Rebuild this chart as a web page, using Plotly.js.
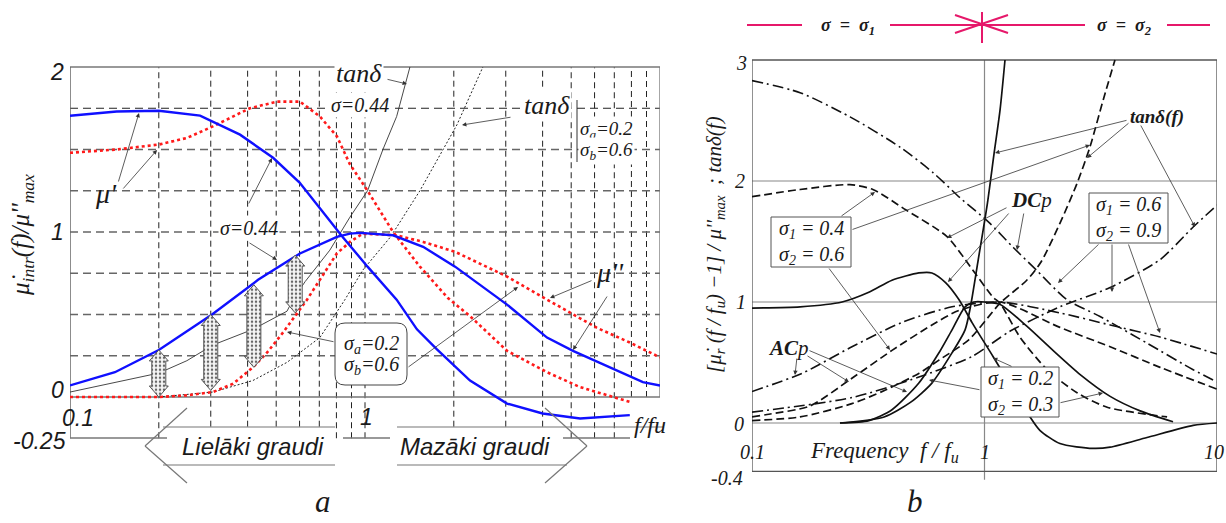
<!DOCTYPE html>
<html><head><meta charset="utf-8">
<script src="https://cdn.plot.ly/plotly-3.0.1.min.js"></script>
<style>html,body{margin:0;padding:0;background:#fff}#chart{width:1226px;height:523px}</style>
</head><body><div id="chart"></div>
<script>
// ---------- Panel a data (f/fu, normalised value) ----------
const blueMu1X = [0.1,0.144,0.2,0.276,0.377,0.488,0.6,0.76,0.84,1.02,1.28,1.5,1.75,2.27,3.03,4.0,5.36,7.9];
const blueMu1Y = [1.705,1.73,1.735,1.705,1.59,1.45,1.30,1.07,0.97,0.79,0.59,0.41,0.29,0.10,-0.04,-0.10,-0.13,-0.11];
const blueMu2X = [0.1,0.142,0.2,0.303,0.434,0.503,0.602,0.803,0.889,0.962,1.245,1.574,2.02,3.03,4.14,5.07,6.6,8.75,10];
const blueMu2Y = [0.07,0.15,0.285,0.50,0.71,0.78,0.87,0.97,0.99,0.995,0.98,0.91,0.79,0.56,0.36,0.28,0.19,0.09,0.07];
const redMu1X = [0.1,0.144,0.2,0.249,0.305,0.407,0.503,0.602,0.703,0.803,0.889,1.02,1.245,1.535,1.91,2.27,3.03,4.14,5.36,7.9];
const redMu1Y = [1.48,1.50,1.53,1.57,1.64,1.75,1.79,1.79,1.70,1.58,1.41,1.25,1.0,0.79,0.60,0.49,0.28,0.15,0.06,-0.03];
const redMu2X = [0.1,0.2,0.249,0.305,0.357,0.417,0.466,0.527,0.636,0.703,0.803,0.889,0.984,1.28,1.574,2.02,3.03,4.24,6.1,7.9,10];
const redMu2Y = [0,0,0.01,0.03,0.08,0.18,0.27,0.39,0.59,0.71,0.87,0.94,0.99,0.98,0.94,0.88,0.73,0.58,0.42,0.33,0.24];
const tanThinX = [0.1,0.144,0.2,0.249,0.305,0.417,0.544,0.57,0.627,0.76,0.889,1.02,1.15,1.28,1.42];
const tanThinY = [0.03,0.09,0.145,0.22,0.315,0.41,0.52,0.59,0.70,0.89,1.09,1.25,1.5,1.70,2.0];
const tanDotX = [0.2,0.305,0.417,0.544,0.703,0.855,0.984,1.22,1.535,2.05,2.51];
const tanDotY = [0,0.03,0.10,0.21,0.36,0.59,0.77,0.97,1.25,1.65,2.0];
const stipX = [0.2,0.3,0.42,0.58];
const stipTop = [0.285,0.50,0.68,0.86];
const stipBot = [0.0,0.04,0.18,0.51];
const gridAX = [0.2,0.3,0.4,0.5,0.6,0.7,0.8,0.9,1,2,3,4,5,6,7,8,9];
const gridAY = [0.25,0.5,0.75,1,1.25,1.5,1.75];

// ---------- Panel b data ----------
const dcSolidX = [0.1,0.161,0.244,0.318,0.40,0.522,0.594,0.68,0.776,0.884,1.088,1.57,1.73,2.11,2.93,3.47,5.0,7.9,10];
const dcSolidY = [0.95,0.96,1.0,1.08,1.18,1.24,1.24,1.16,1.02,0.83,0.55,0.05,-0.06,-0.17,-0.21,-0.20,-0.12,-0.02,0];
const acSolidX = [0.239,0.318,0.40,0.522,0.637,0.725,0.825,0.9,1.0,1.167,1.52,1.97,2.58,3.47,4.67,6.47];
const acSolidY = [0,0.02,0.11,0.33,0.58,0.77,0.96,1.0,1.0,0.98,0.80,0.60,0.40,0.22,0.10,0.01];
const tanSolidX = [0.239,0.37,0.48,0.594,0.725,0.825,0.87,0.94,1.03,1.10,1.167,1.225];
const tanSolidY = [0,0.05,0.17,0.33,0.58,0.77,0.96,1.35,1.82,2.23,2.59,3.0];
const dcDashX = [0.1,0.161,0.264,0.331,0.46,0.69,0.893,1.088,1.167,1.42,1.86,2.50,3.37,6.1];
const dcDashY = [1.87,1.93,1.97,1.93,1.76,1.54,1.26,1.04,0.99,0.71,0.44,0.25,0.13,0.05];
const acDashX = [0.1,0.116,0.177,0.269,0.40,0.594,0.776,1.167,2.11,3.47,5.69,10];
const acDashY = [0.05,0.07,0.14,0.37,0.60,0.81,0.93,1.0,0.79,0.63,0.46,0.28];
const tanDashX = [0.1,0.161,0.269,0.373,0.522,0.637,0.858,1.167,1.52,1.75,2.11,2.50,2.84,3.24,3.64];
const tanDashY = [0.02,0.05,0.16,0.27,0.41,0.52,0.69,0.99,1.18,1.33,1.65,1.98,2.28,2.67,3.0];
const dcDotX = [0.1,0.161,0.264,0.433,0.6,0.786,1.056,1.33,1.68,2.26,3.14,5.0,7.9,10];
const dcDotY = [2.83,2.73,2.53,2.28,2.07,1.86,1.65,1.45,1.26,1.02,0.88,0.66,0.44,0.34];
const acDotX = [0.1,0.164,0.269,0.44,0.725,1.167,2.11,3.47,5.69,10];
const acDotY = [0.26,0.41,0.63,0.83,0.96,1.0,0.91,0.81,0.71,0.57];
const tanDotBX = [0.1,0.269,0.522,0.884,1.29,2.11,3.47,5.69,7.9,10];
const tanDotBY = [0.09,0.21,0.38,0.55,0.76,0.96,1.12,1.35,1.62,1.80];
const gridBY = [0,1,2];

// ---------- helpers ----------
const W = 1226, H = 523;
const PX = x => x / W, PY = y => 1 - y / H;
const SERIF = 'Liberation Serif, Times New Roman, serif';
const SANS = 'Liberation Sans, Arial, sans-serif';
const PINK = '#e6186a';
function seg(x0,y0,x1,y1,color,width,dash){return {type:'line',xref:'paper',yref:'paper',x0:PX(x0),y0:PY(y0),x1:PX(x1),y1:PY(y1),line:{color:color,width:width,dash:dash||'solid'},layer:'above'};}
function txt(x,y,text,size,family,extra){return Object.assign({xref:'paper',yref:'paper',x:PX(x),y:PY(y),text:text,showarrow:false,xanchor:'center',yanchor:'middle',font:{family:family||SERIF,size:size,color:'#1a1a1a'}},extra||{});}
function arr(hx,hy,tx,ty,w){return {xref:'paper',yref:'paper',x:PX(hx),y:PY(hy),ax:tx-hx,ay:ty-hy,axref:'pixel',ayref:'pixel',text:'',showarrow:true,arrowhead:2,arrowsize:1.1,arrowwidth:w||0.8,arrowcolor:'#333',standoff:0};}
function rect(x0,y0,x1,y1){return {type:'rect',xref:'paper',yref:'paper',x0:PX(x0),y0:PY(y1),x1:PX(x1),y1:PY(y0),line:{color:'#555',width:1},fillcolor:'#fff',layer:'above'};}
function roundRect(x0,y0,x1,y1,r){
  const p=(x,y)=>PX(x)+','+PY(y);
  const d='M'+p(x0+r,y0)+' L'+p(x1-r,y0)+' Q'+p(x1,y0)+' '+p(x1,y0+r)+' L'+p(x1,y1-r)+' Q'+p(x1,y1)+' '+p(x1-r,y1)+
    ' L'+p(x0+r,y1)+' Q'+p(x0,y1)+' '+p(x0,y1-r)+' L'+p(x0,y0+r)+' Q'+p(x0,y0)+' '+p(x0+r,y0)+' Z';
  return {type:'path',xref:'paper',yref:'paper',path:d,line:{color:'#444',width:1},fillcolor:'#fff',layer:'above'};
}

// ---------- traces ----------
const A = {xaxis:'x',yaxis:'y',mode:'lines',hoverinfo:'skip'};
const B = {xaxis:'x2',yaxis:'y2',mode:'lines',hoverinfo:'skip'};
const traces = [];
traces.push(Object.assign({x:tanDotX,y:tanDotY,line:{color:'#222',width:1,dash:'2px,2px'}},A));
traces.push(Object.assign({x:tanThinX,y:tanThinY,line:{color:'#333',width:0.9}},A));
traces.push(Object.assign({x:redMu1X,y:redMu1Y,line:{color:'#ff1a1a',width:2.6,dash:'dot'}},A));
traces.push(Object.assign({x:redMu2X,y:redMu2Y,line:{color:'#ff1a1a',width:2.6,dash:'dot'}},A));
traces.push(Object.assign({x:blueMu1X,y:blueMu1Y,line:{color:'#1010ff',width:2.4}},A));
traces.push(Object.assign({x:blueMu2X,y:blueMu2Y,line:{color:'#1010ff',width:2.4}},A));
// stippled double arrows built from their end values
const sx=[], sy=[];
const kx = p => Math.pow(10, p/295), dy = p => p/165;
stipX.forEach((c,i)=>{
  const t=stipTop[i], b=stipBot[i], hl=dy(11), hw=kx(9.5), bw=kx(7);
  [[c,t],[c*hw,t-hl],[c*bw,t-hl],[c*bw,b+hl],[c*hw,b+hl],[c,b],[c/hw,b+hl],[c/bw,b+hl],[c/bw,t-hl],[c/hw,t-hl],[c,t]]
    .forEach(p=>{sx.push(p[0]);sy.push(p[1]);});
  sx.push(null); sy.push(null);
});
traces.push(Object.assign({x:sx,y:sy,fill:'toself',fillcolor:'#f2f2f2',
  fillpattern:{shape:'.',fgcolor:'#666',bgcolor:'#f6f6f6',size:4,solidity:0.3},
  line:{color:'#555',width:1}},A));

const SOL={color:'#111',width:1.7,shape:'spline',smoothing:0.7};
const DSH={color:'#111',width:1.7,shape:'spline',smoothing:0.7,dash:'8px,4px'};
const DDT={color:'#111',width:1.6,shape:'spline',smoothing:0.7,dash:'11px,4px,2px,4px'};
traces.push(Object.assign({x:dcSolidX,y:dcSolidY,line:SOL},B));
traces.push(Object.assign({x:acSolidX,y:acSolidY,line:SOL},B));
traces.push(Object.assign({x:tanSolidX,y:tanSolidY,line:SOL},B));
traces.push(Object.assign({x:dcDashX,y:dcDashY,line:DSH},B));
traces.push(Object.assign({x:acDashX,y:acDashY,line:DSH},B));
traces.push(Object.assign({x:tanDashX,y:tanDashY,line:DSH},B));
traces.push(Object.assign({x:dcDotX,y:dcDotY,line:DDT},B));
traces.push(Object.assign({x:acDotX,y:acDotY,line:DDT},B));
traces.push(Object.assign({x:tanDotBX,y:tanDotBY,line:DDT},B));

// ---------- shapes ----------
const shapes = [];
// panel a grid
gridAX.forEach(v=>{
  let bottom = -0.18;
  if (v===0.2||v===0.8||v===0.9||v===1||v===5||v===6||v===7) bottom=-0.25;
  if (v===8||v===9) bottom=0;
  shapes.push({type:'line',xref:'x',yref:'y',x0:v,x1:v,y0:bottom,y1:2,line:{color:'#222',width:1,dash:'6px,4px'},layer:'below'});
});
gridAY.forEach(v=>{
  shapes.push({type:'line',xref:'x',yref:'y',x0:0.1,x1:10,y0:v,y1:v,line:{color:v===1.75?'#222':'#666',width:v===1.75?1:1.3,dash:'8px,5px'},layer:'below'});
});
// panel a frame
shapes.push({type:'line',xref:'x',yref:'y',x0:0.1,x1:10,y0:2,y1:2,line:{color:'#777',width:1.3},layer:'below'});
shapes.push({type:'line',xref:'x',yref:'y',x0:10,x1:10,y0:0,y1:2,line:{color:'#777',width:1.3},layer:'below'});
shapes.push({type:'line',xref:'x',yref:'y',x0:0.1,x1:10,y0:0,y1:0,line:{color:'#777',width:1.3},layer:'below'});
shapes.push({type:'line',xref:'x',yref:'y',x0:0.1,x1:0.1,y0:-0.25,y1:2,line:{color:'#666',width:1.5},layer:'below'});
// -0.25 line pieces and grain arrows
shapes.push(seg(70,438,167,438,'#777',1.3));
shapes.push(seg(343,438,390,438,'#777',1.3));
shapes.push(seg(563,438,630,438,'#777',1.3));
shapes.push(seg(163,427,335,427,'#777',1.2));
shapes.push(seg(163,465,335,465,'#777',1.2));
shapes.push(seg(187,408,145,446,'#777',1.2));
shapes.push(seg(145,446,187,483,'#777',1.2));
shapes.push(seg(397,427,663,427,'#777',1.2));
shapes.push(seg(397,465,567,465,'#777',1.2));
shapes.push(seg(545,408,587,446,'#777',1.2));
shapes.push(seg(587,446,545,483,'#777',1.2));
// tan delta bracket
shapes.push(seg(577,100,577,162,'#333',1));
// rounded label box
shapes.push(roundRect(335,323,407,385,10));

// panel b grid & frame
gridBY.forEach(v=>shapes.push({type:'line',xref:'x2',yref:'y2',x0:0.1,x1:10,y0:v,y1:v,line:{color:'#888',width:1.2},layer:'below'}));
shapes.push({type:'line',xref:'x2',yref:'y2',x0:1,x1:1,y0:-0.47,y1:3,line:{color:'#888',width:1.2},layer:'below'});
shapes.push({type:'line',xref:'x2',yref:'y2',x0:0.1,x1:10,y0:3,y1:3,line:{color:'#555',width:1.3},layer:'below'});
shapes.push({type:'line',xref:'x2',yref:'y2',x0:0.1,x1:10,y0:-0.4,y1:-0.4,line:{color:'#555',width:1.3},layer:'below'});
shapes.push({type:'line',xref:'x2',yref:'y2',x0:0.1,x1:0.1,y0:-0.4,y1:3,line:{color:'#555',width:1.3},layer:'below'});
shapes.push({type:'line',xref:'x2',yref:'y2',x0:10,x1:10,y0:-0.4,y1:3,line:{color:'#555',width:1.3},layer:'below'});
// label boxes b
shapes.push(rect(771,217,851,267));
shapes.push(rect(1089,193,1168,243));
shapes.push(rect(981,367,1059,417));
// top sigma bar
shapes.push(seg(747,25,802,25,PINK,2));
shapes.push(seg(890,25,1085,25,PINK,2));
shapes.push(seg(1167,25,1210,25,PINK,2));
shapes.push(seg(982,12,982,43,PINK,2));
shapes.push(seg(955,15,1008,33,PINK,2));
shapes.push(seg(955,33,1008,15,PINK,2));

// ---------- annotations ----------
const ann = [];
// panel a ticks
ann.push(txt(57,72,'<i>2</i>',23,SANS));
ann.push(txt(57,232,'<i>1</i>',23,SANS));
ann.push(txt(57,390,'<i>0</i>',23,SANS));
ann.push(txt(39,441,'<i>-0.25</i>',23,SANS));
ann.push(txt(78,418,'<i>0.1</i>',23,SANS));
ann.push(txt(366,417,'<i>1</i>',23,SANS));
ann.push(txt(650,425,'<i>f/fu</i>',24,SERIF));
ann.push(txt(253,446,'<i>Lielāki graudi</i>',24,SANS));
ann.push(txt(475,446,'<i>Mazāki graudi</i>',24,SANS));
ann.push(txt(22,235,'<i>μ̇<sub>intr</sub>(f)/μ\'\'<sub>max</sub></i>',25,SERIF,{textangle:-90}));
ann.push(txt(323,501,'<i>a</i>',31,SERIF));
// panel a labels
ann.push(txt(359,74,'<i>tanδ</i>',26,SERIF,{bgcolor:'#fff'}));
ann.push(txt(360,105,'<i>σ=0.44</i>',20,SERIF,{bgcolor:'#fff'}));
ann.push(txt(547,106,'<i>tanδ</i>',26,SERIF,{bgcolor:'#fff'}));
ann.push(txt(606,130,'<i>σ<sub>a</sub>=0.2</i>',19,SERIF,{bgcolor:'#fff'}));
ann.push(txt(606,151,'<i>σ<sub>b</sub>=0.6</i>',19,SERIF,{bgcolor:'#fff'}));
ann.push(txt(106,193,'<i>μ\'</i>',28,SERIF));
ann.push(txt(249,228,'<i>σ=0.44</i>',20,SERIF,{bgcolor:'#fff'}));
ann.push(txt(610,272,'<i>μ\'\'</i>',28,SERIF));
ann.push(txt(371,344,'<i>σ<sub>a</sub>=0.2</i>',20,SERIF));
ann.push(txt(371,365,'<i>σ<sub>b</sub>=0.6</i>',20,SERIF));
// panel a arrows
ann.push(arr(139,113,118,183));
ann.push(arr(157,150,122,190));
ann.push(arr(272,158,248,205));
ann.push(arr(277,260,248,242));
ann.push(arr(407,84,386,79));
ann.push(arr(462,125,512,117));
ann.push(arr(550,298,593,280));
ann.push(arr(573,350,608,295));
ann.push(arr(287,332,335,342));
ann.push(arr(518,287,407,368));
// panel b ticks
ann.push(txt(741,63,'<i>3</i>',20));
ann.push(txt(740,181,'<i>2</i>',20));
ann.push(txt(741,302,'<i>1</i>',20));
ann.push(txt(739,424,'<i>0</i>',20));
ann.push(txt(752,452,'<i>0.1</i>',20));
ann.push(txt(727,478,'<i>-0.4</i>',20));
ann.push(txt(985,452,'<i>1</i>',20));
ann.push(txt(1214,452,'<i>10</i>',20));
ann.push(txt(884,452,'<i>Frequency&nbsp; f / f<sub>u</sub></i>',23,SERIF,{bgcolor:'#fff'}));
ann.push(txt(715,245,'<i>[μ̇<sub>r</sub> (f / f<sub>u</sub>) −1] / μ\'\'<sub>max</sub> &nbsp;; tanδ(f)</i>',21,SERIF,{textangle:-90}));
ann.push(txt(915,501,'<i>b</i>',31,SERIF));
// top bar
ann.push(txt(848,26,'<b><i>σ &nbsp;= &nbsp;σ<sub>1</sub></i></b>',18,SERIF));
ann.push(txt(1124,26,'<b><i>σ &nbsp;= &nbsp;σ<sub>2</sub></i></b>',18,SERIF));
// panel b labels
ann.push(txt(1157,117,'<b><i>tanδ(f)</i></b>',19,SERIF));
ann.push(txt(1031,200,'<b><i>DC</i></b><i>p</i>',21,SERIF));
ann.push(txt(788,348,'<b><i>AC</i></b><i>p</i>',21,SERIF));
ann.push(txt(811,242,'<i>σ<sub>1</sub> = 0.4<br>σ<sub>2</sub> = 0.6</i>',20,SERIF));
ann.push(txt(1128,218,'<i>σ<sub>1</sub> = 0.6<br>σ<sub>2</sub> = 0.9</i>',20,SERIF));
ann.push(txt(1020,392,'<i>σ<sub>1</sub> = 0.2<br>σ<sub>2</sub> = 0.3</i>',20,SERIF));
// panel b arrows
ann.push(arr(995,153,1128,120));
ann.push(arr(1087,158,1130,122));
ann.push(arr(1195,227,1140,124));
ann.push(arr(875,192,840,217));
ann.push(arr(1090,145,851,230));
ann.push(arr(890,350,828,267));
ann.push(arr(947,238,1008,207));
ann.push(arr(948,282,1010,212));
ann.push(arr(1017,250,1024,212));
ann.push(arr(1058,283,1100,243));
ann.push(arr(1112,292,1112,243));
ann.push(arr(1160,333,1128,243));
ann.push(arr(795,375,797,357));
ann.push(arr(849,382,806,355));
ann.push(arr(907,392,808,350));
ann.push(arr(993,358,1013,367));
ann.push(arr(929,380,981,390));
ann.push(arr(1103,393,1059,403));

const hidden = {visible:false,fixedrange:true,showgrid:false,zeroline:false};
const layout = {
  width:W, height:H, margin:{l:0,r:0,t:0,b:0}, showlegend:false,
  paper_bgcolor:'#fff', plot_bgcolor:'rgba(0,0,0,0)',
  xaxis:Object.assign({type:'log',range:[-1,1],domain:[70/W,660/W],anchor:'y'},hidden),
  yaxis:Object.assign({range:[-0.55,2.02],domain:[1-487.75/H,1-63.7/H],anchor:'x'},hidden),
  xaxis2:Object.assign({type:'log',range:[-1,1],domain:[752/W,1217/W],anchor:'y2'},hidden),
  yaxis2:Object.assign({range:[-0.5,3.4],domain:[1-483.5/H,1-11.6/H],anchor:'x2'},hidden),
  shapes:shapes, annotations:ann
};
Plotly.newPlot('chart',traces,layout,{staticPlot:true,displayModeBar:false});
</script></body></html>
